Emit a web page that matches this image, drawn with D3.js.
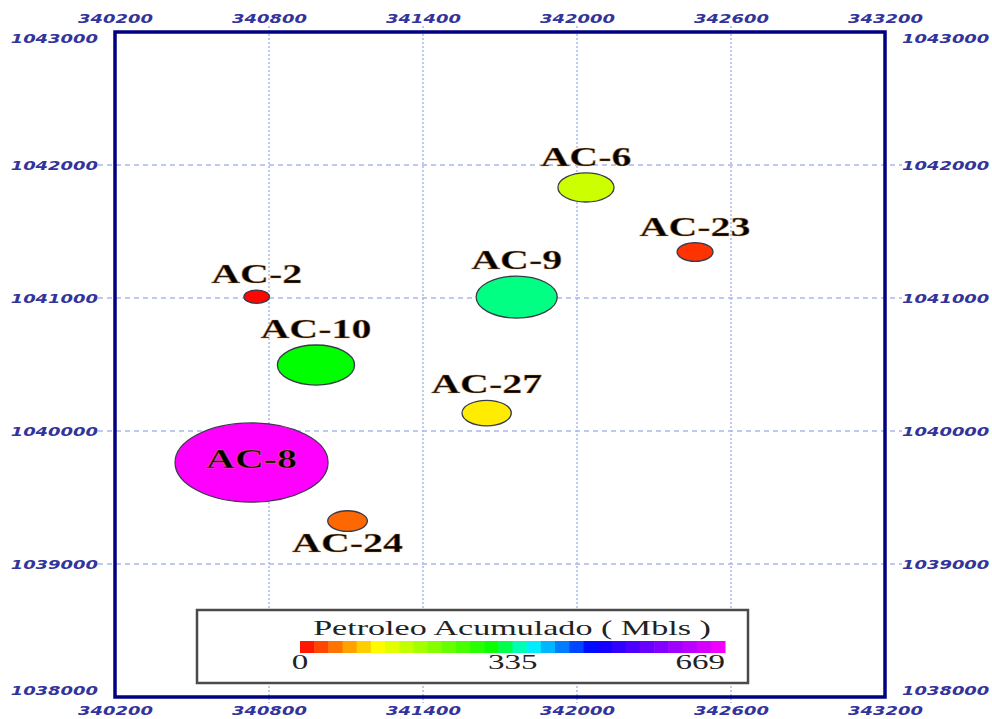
<!DOCTYPE html>
<html>
<head>
<meta charset="utf-8">
<script src="https://cdn.jsdelivr.net/npm/d3@7"></script>
<style>
body { margin: 0; background: #fff; }
</style>
</head>
<body>
<svg id="map" width="992" height="719"></svg>
<script>
// wells (UTM east / north) and cumulative oil, Mbls
var wellNames = ["AC-2", "AC-10", "AC-8", "AC-24", "AC-27", "AC-9", "AC-6", "AC-23"];
var wellEast = [340752, 340983, 340732, 341106, 341648, 341765, 342035, 342460];
var wellNorth = [1041010, 1040496, 1039763, 1039323, 1040135, 1041007, 1041831, 1041346];
var oilCum = [3, 308, 669, 50, 115, 335, 161, 25];
var labelSide = ["above", "above", "inside", "below", "above", "above", "above", "above"];

var xTicks = [340200, 340800, 341400, 342000, 342600, 343200];
var yTicks = [1038000, 1039000, 1040000, 1041000, 1042000, 1043000];
var legendTicks = [0, 335, 669];
var legendTitle = "Petroleo Acumulado ( Mbls )";

var svg = d3.select("#map"),
	plotLeft = 115, plotRight = 885, plotTop = 32, plotBottom = 697;

var x = d3.scaleLinear().domain([340200, 343200]).range([plotLeft, plotRight]);
var y = d3.scaleLinear().domain([1038000, 1043000]).range([plotBottom, plotTop]);

// rainbow ramp red -> yellow -> green -> cyan -> blue -> magenta
var color = d3.scaleLinear()
	.domain([0, 124, 308, 361, 462, 669])
	.range(["#ff0000", "#ffff00", "#00ff00", "#00ffff", "#0000ff", "#ff00ff"]);

// bubble radius in metres
var radius = d3.scaleLinear()
	.domain([0, 25, 160, 335, 669])
	.range([47, 70, 109, 158, 298]);

var data = [];
for (var i = 0; i < wellNames.length; i++) {
	data.push({"name": wellNames[i], "e": wellEast[i], "n": wellNorth[i], "v": oilCum[i], "side": labelSide[i]});
}

// grid
var gridColor = "#a9b8ec";
svg.append("g").selectAll("line")
	.data(xTicks.slice(1, -1))
	.enter().append("line")
	.attr("x1", function (d) { return x(d); })
	.attr("x2", function (d) { return x(d); })
	.attr("y1", plotTop - 6)
	.attr("y2", plotBottom + 6)
	.attr("stroke", gridColor)
	.attr("stroke-width", 1.5)
	.attr("stroke-dasharray", "2,2");

svg.append("g").selectAll("line")
	.data(yTicks.slice(1, -1))
	.enter().append("line")
	.attr("x1", plotLeft - 17)
	.attr("x2", plotRight + 17)
	.attr("y1", function (d) { return y(d); })
	.attr("y2", function (d) { return y(d); })
	.attr("stroke", gridColor)
	.attr("stroke-width", 1.5)
	.attr("stroke-dasharray", "5,4");

// axes (labels only)
var tickFont = function (sel, anchor) {
	sel.select(".domain").remove();
	sel.selectAll(".tick line").remove();
	sel.selectAll(".tick text")
		.attr("fill", "#33339c")
		.style("font-family", "DejaVu Sans")
		.style("font-weight", "bold")
		.style("font-style", "italic")
		.style("font-size", "13px")
		.attr("text-anchor", anchor);
};

svg.append("g")
	.attr("transform", "translate(0," + (plotTop - 9) + ")")
	.call(d3.axisTop(x).tickValues(xTicks).tickSize(0).tickPadding(0).tickFormat(d3.format("d")))
	.call(tickFont, "middle")
	.selectAll(".tick text")
	.attr("y", 0).attr("dy", "0em")
	.attr("transform", "scale(1.38,1)");

svg.append("g")
	.attr("transform", "translate(0," + (plotBottom + 18) + ")")
	.call(d3.axisBottom(x).tickValues(xTicks).tickSize(0).tickPadding(0).tickFormat(d3.format("d")))
	.call(tickFont, "middle")
	.selectAll(".tick text")
	.attr("y", 0).attr("dy", "0em")
	.attr("transform", "scale(1.38,1)");

var edgeShift = function (d) {
	if (d == 1043000) return 6;
	if (d == 1038000) return -7;
	return 0;
};

svg.append("g")
	.attr("transform", "translate(" + (plotLeft - 17) + ",0)")
	.call(d3.axisLeft(y).tickValues(yTicks).tickSize(0).tickPadding(0).tickFormat(d3.format("d")))
	.call(tickFont, "end")
	.selectAll(".tick text")
	.attr("x", 0).attr("dy", "0.36em")
	.attr("transform", function (d) { return "translate(0," + edgeShift(d) + ") scale(1.38,1)"; });

svg.append("g")
	.attr("transform", "translate(" + (plotRight + 17) + ",0)")
	.call(d3.axisRight(y).tickValues(yTicks).tickSize(0).tickPadding(0).tickFormat(d3.format("d")))
	.call(tickFont, "start")
	.selectAll(".tick text")
	.attr("x", 0).attr("dy", "0.36em")
	.attr("transform", function (d) { return "translate(0," + edgeShift(d) + ") scale(1.38,1)"; });

// frame
svg.append("rect")
	.attr("x", plotLeft)
	.attr("y", plotTop)
	.attr("width", plotRight - plotLeft)
	.attr("height", plotBottom - plotTop)
	.attr("fill", "none")
	.attr("stroke", "#000080")
	.attr("stroke-width", 3.5);

// bubbles
var bubbles = svg.append("g").selectAll("g")
	.data(data)
	.enter().append("g");

bubbles.append("ellipse")
	.attr("cx", function (d) { return x(d.e); })
	.attr("cy", function (d) { return y(d.n); })
	.attr("rx", function (d) { return x(d.e + radius(d.v)) - x(d.e); })
	.attr("ry", function (d) { return y(d.n) - y(d.n + radius(d.v)); })
	.attr("fill", function (d) { return color(d.v); })
	.attr("stroke", "#3a3a4a")
	.attr("stroke-width", 1.3);

bubbles.append("text")
	.text(function (d) { return d.name; })
	.attr("text-anchor", "middle")
	.style("font-family", "Liberation Serif, Times New Roman, serif")
	.style("font-weight", "bold")
	.style("font-size", "27px")
	.attr("fill", "#000")
	.attr("stroke", "#f0a050")
	.attr("stroke-opacity", 0.35)
	.attr("stroke-width", 1)
	.attr("transform", function (d) {
		var cx = x(d.e), cy = y(d.n), ry = y(d.n) - y(d.n + radius(d.v)), ty;
		if (d.side == "above") ty = cy - ry - 7;
		else if (d.side == "below") ty = cy + ry + 21;
		else ty = cy + 5;
		return "translate(" + cx + "," + ty + ") scale(1.48,1)";
	});

// legend
var legend = svg.append("g");
legend.append("rect")
	.attr("x", 197)
	.attr("y", 610)
	.attr("width", 551)
	.attr("height", 73)
	.attr("fill", "#fff")
	.attr("stroke", "#4a4a4a")
	.attr("stroke-width", 2.5);

legend.append("text")
	.text(legendTitle)
	.attr("text-anchor", "middle")
	.style("font-family", "Liberation Serif, Times New Roman, serif")
	.style("font-size", "22px")
	.attr("fill", "#222")
	.attr("transform", "translate(512,635) scale(1.55,1)");

var lx = d3.scaleLinear().domain([0, 669]).range([300, 725]);
var nSteps = 30;
var steps = d3.range(nSteps);
legend.selectAll(".step")
	.data(steps)
	.enter().append("rect")
	.attr("class", "step")
	.attr("x", function (d) { return lx(d * 669 / nSteps); })
	.attr("y", 641)
	.attr("width", function (d) { return lx((d + 1) * 669 / nSteps) - lx(d * 669 / nSteps) + 0.5; })
	.attr("height", 12)
	.attr("fill", function (d) { return color((d + 0.5) * 669 / nSteps); });

legend.selectAll(".lt")
	.data(legendTicks)
	.enter().append("text")
	.attr("class", "lt")
	.text(function (d) { return d; })
	.attr("text-anchor", function (d, i) { return i == legendTicks.length - 1 ? "end" : "middle"; })
	.style("font-family", "Liberation Serif, Times New Roman, serif")
	.style("font-size", "22px")
	.attr("fill", "#222")
	.attr("transform", function (d) { return "translate(" + lx(d) + ",669) scale(1.5,1)"; });
</script>
</body>
</html>
